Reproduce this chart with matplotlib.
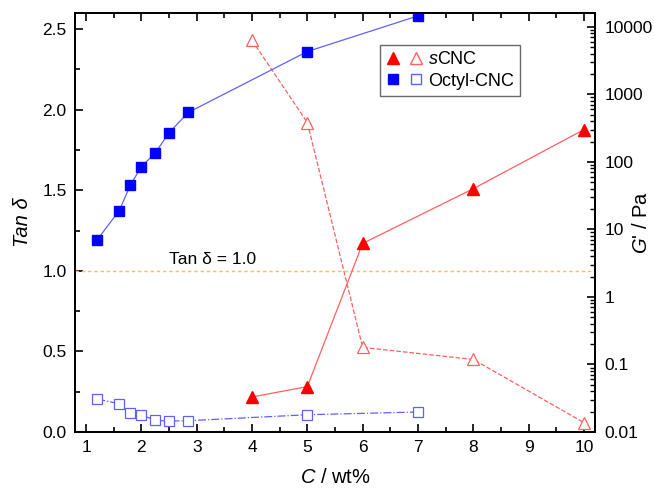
import matplotlib
matplotlib.use("Agg")
import matplotlib.pyplot as plt
from matplotlib.lines import Line2D
from matplotlib.legend_handler import HandlerTuple
from matplotlib.ticker import MultipleLocator, LogLocator, NullFormatter

plt.rcParams['font.family'] = ['Liberation Sans', 'DejaVu Sans']
plt.rcParams['mathtext.fontset'] = 'custom'
plt.rcParams['mathtext.rm'] = 'Liberation Sans'
plt.rcParams['mathtext.it'] = 'Liberation Sans:italic'

# sCNC
c_scnc = [4, 5, 6, 8, 10]
g_scnc = [0.033, 0.047, 6.2, 40, 300]
tan_scnc = [2.43, 1.92, 0.525, 0.45, 0.058]

# Octyl-CNC
c_oct = [1.2, 1.6, 1.8, 2.0, 2.25, 2.5, 2.85, 5, 7]
g_oct = [7.0, 19, 45, 85, 135, 270, 540, 4300, 14500]
tan_oct = [0.204, 0.175, 0.118, 0.107, 0.072, 0.068, 0.070, 0.107, 0.124]

g_ticks = [0.01, 0.1, 1, 10, 100, 1000, 10000]
g_labels = ['0.01', '0.1', '1', '10', '100', '1000', '10000']

fig = plt.figure(figsize=(6.54, 4.9), dpi=100)
ax = fig.add_axes([0.1147, 0.1184, 0.7951, 0.8551])
ax2 = ax.twinx()

red, red_l = '#ff0000', '#ff6060'
blue, blue_l = '#0000ff', '#6060ff'

# tan delta (open symbols, left axis)
ax.plot(c_scnc, tan_scnc, ls='--', lw=0.9, color=red_l, marker='^', ms=8,
        mfc='white', mec=red_l, mew=0.9)
ax.plot(c_oct, tan_oct, ls='-.', lw=0.9, color=blue_l, marker='s', ms=6.5,
        mfc='white', mec=blue_l, mew=0.9)
ax.axhline(1.0, ls=(0, (2.5, 2)), lw=1.0, color='#ffb870')
ax.text(2.5, 1.025, 'Tan δ = 1.0', fontsize=12.5, va='bottom', ha='left')

# G' (filled symbols, right axis)
ax2.plot(c_scnc, g_scnc, ls='-', lw=0.9, color=red_l, marker='^', ms=8,
         mfc=red, mec=red)
ax2.plot(c_oct, g_oct, ls='-', lw=0.9, color=blue_l, marker='s', ms=6.5,
         mfc=blue, mec=blue)

ax.set_xlim(0.8, 10.2)
ax.set_ylim(0, 2.6)
ax2.set_yscale('log')
ax2.set_ylim(0.01, 16000)

ax.xaxis.set_major_locator(MultipleLocator(1))
ax.xaxis.set_minor_locator(MultipleLocator(0.5))
ax.yaxis.set_major_locator(MultipleLocator(0.5))
ax.yaxis.set_minor_locator(MultipleLocator(0.25))
ax2.yaxis.set_minor_locator(LogLocator(base=10, subs=range(2, 10), numticks=20))
ax2.yaxis.set_minor_formatter(NullFormatter())
ax2.set_yticks(g_ticks)
ax2.set_yticklabels(g_labels)

ax.tick_params(axis='x', which='both', direction='in', top=True, labelsize=12.5, pad=6)
ax.tick_params(axis='y', which='both', direction='in', right=False, labelsize=12.5, pad=6)
ax.tick_params(which='major', length=6, width=1.2)
ax.tick_params(which='minor', length=3.5, width=1.2)
ax2.tick_params(axis='y', which='both', direction='in', labelsize=12.5, pad=7)
ax2.tick_params(which='major', length=6, width=1.2)
ax2.tick_params(which='minor', length=3.5, width=1.0)
for a in (ax, ax2):
    for s in a.spines.values():
        s.set_linewidth(1.4)

ax.set_xlabel('$C$ / wt%', fontsize=14.5)
ax.set_ylabel('Tan δ', fontsize=14.5, fontstyle='italic')
ax2.set_ylabel("$G$' / Pa", fontsize=14.5)
ax.xaxis.set_label_coords(0.5, -0.085)
ax.yaxis.set_label_coords(-0.083, 0.5)
ax2.yaxis.set_label_coords(1.071, 0.5)

h_s = (Line2D([], [], ls='none', marker='^', ms=8, mfc=red, mec=red),
       Line2D([], [], ls='none', marker='^', ms=8, mfc='white', mec=red_l))
h_o = (Line2D([], [], ls='none', marker='s', ms=6.5, mfc=blue, mec=blue),
       Line2D([], [], ls='none', marker='s', ms=6.5, mfc='white', mec=blue_l))
leg = ax2.legend([h_s, h_o], ['$s$CNC', 'Octyl-CNC'],
                 handler_map={tuple: HandlerTuple(ndivide=None, pad=0.6)},
                 loc='upper left', bbox_to_anchor=(0.587, 0.924),
                 borderaxespad=0, fontsize=13, frameon=True, fancybox=False,
                 edgecolor='#444444', handlelength=2.0, handletextpad=0.3,
                 borderpad=0.35, labelspacing=0.25)
leg.get_frame().set_linewidth(1.0)

fig.savefig('out.png', dpi=100)
